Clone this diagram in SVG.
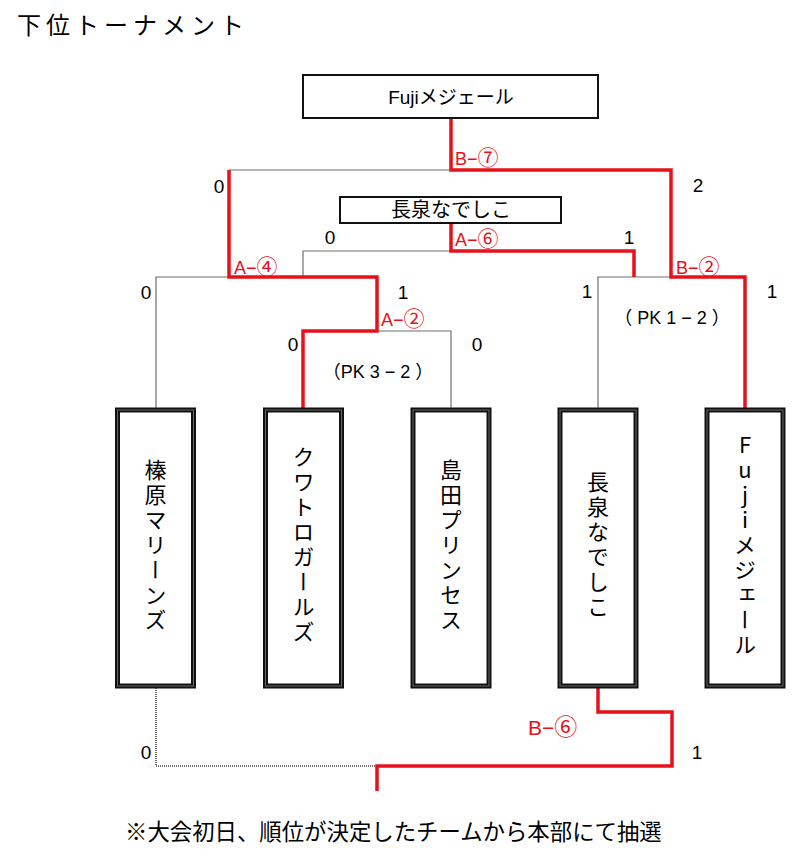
<svg xmlns="http://www.w3.org/2000/svg" width="800" height="858" viewBox="0 0 800 858">
<style>
.jp{font-family:"Noto Sans CJK JP","Liberation Sans",sans-serif;fill:#000}
.num{font-family:"Liberation Sans","Noto Sans CJK JP",sans-serif;font-size:19px;fill:#000;text-anchor:middle}
.pk{font-family:"Liberation Sans","Noto Sans CJK JP",sans-serif;font-size:18px;fill:#000;text-anchor:middle}
.lbl{font-family:"Liberation Sans","Noto Sans CJK JP",sans-serif;font-size:18px;fill:#e8101a}
.c{font-size:21px}
.hdr{fill:#fff;stroke:#111;stroke-width:2}
.team{fill:#fff;stroke:#111;stroke-width:5}
.teamin{fill:none;stroke:#666;stroke-width:1}
.vt{font-family:"Noto Sans CJK JP",sans-serif;font-size:22px;writing-mode:vertical-rl;text-orientation:upright;letter-spacing:3px;text-anchor:middle;fill:#000}
.g{fill:none;stroke:#6e6e6e;stroke-width:1.2}
.r{fill:none;stroke:#e8101a;stroke-width:3.5;stroke-linejoin:miter}
.d{fill:none;stroke:#444;stroke-width:1.6;stroke-dasharray:1 1}
</style>
<rect width="800" height="858" fill="#fff"/>
<text class="jp" x="17" y="34" font-size="24" letter-spacing="5">下位トーナメント</text>

<g id="connectors">
<path class="g" d="M229,170 H451"/>
<path class="g" d="M303,277 V251 H451"/>
<path class="g" d="M156,410 V277 H229"/>
<path class="g" d="M377,331 H451 V410"/>
<path class="g" d="M598,410 V277 H671"/>
<path class="d" d="M156,686 V766 H377"/>
<path class="r" d="M451,118 V170 H671 V277 H745 V410"/>
<path class="r" d="M229,170 V277 H377 V331 H303 V410"/>
<path class="r" d="M451,223 V251 H634 V277"/>
<path class="r" d="M598,686 V712 H672 V766 H377 V791"/>
</g>

<g id="labels">
<text class="lbl" x="455" y="165">B−<tspan class="c">⑦</tspan></text>
<text class="lbl" x="455" y="246">A−<tspan class="c">⑥</tspan></text>
<text class="lbl" x="234" y="274">A−<tspan class="c">④</tspan></text>
<text class="lbl" x="676" y="274">B−<tspan class="c">②</tspan></text>
<text class="lbl" x="381" y="326">A−<tspan class="c">②</tspan></text>
<text class="lbl" x="528" y="735" style="font-size:21px">B−<tspan style="font-size:23px">⑥</tspan></text>
<text class="num" x="219" y="193">0</text>
<text class="num" x="698" y="192">2</text>
<text class="num" x="330" y="244">0</text>
<text class="num" x="629" y="244">1</text>
<text class="num" x="146" y="299">0</text>
<text class="num" x="403" y="299">1</text>
<text class="num" x="293" y="351">0</text>
<text class="num" x="477" y="351">0</text>
<text class="num" x="587" y="298">1</text>
<text class="num" x="772" y="298">1</text>
<text class="num" x="146" y="759">0</text>
<text class="num" x="697" y="759">1</text>
<text class="pk" x="378" y="378">（PK 3 − 2 ）</text>
<text class="pk" x="672" y="324">（ PK 1 − 2 ）</text>
</g>

<g id="final">
<rect class="hdr" x="303" y="75" width="295" height="43"/>
<text class="jp" x="451" y="104" font-size="19" text-anchor="middle"><tspan font-family="Liberation Sans">Fuji</tspan>メジェール</text>
</g>
<g id="semi">
<rect class="hdr" x="340" y="197" width="221" height="26"/>
<text class="jp" x="451" y="217" font-size="20" text-anchor="middle">長泉なでしこ</text>
</g>

<g id="team1">
<rect class="team" x="117.5" y="410" width="76" height="276"/>
<rect class="teamin" x="117.5" y="410" width="76" height="276"/>
<text class="vt" x="155.5" y="546">榛原マリーンズ</text>
</g>
<g id="team2">
<rect class="team" x="265.5" y="410" width="76" height="276"/>
<rect class="teamin" x="265.5" y="410" width="76" height="276"/>
<text class="vt" x="303.5" y="546">クワトロガールズ</text>
</g>
<g id="team3">
<rect class="team" x="413" y="410" width="76" height="276"/>
<rect class="teamin" x="413" y="410" width="76" height="276"/>
<text class="vt" x="451" y="546">島田プリンセス</text>
</g>
<g id="team4">
<rect class="team" x="560" y="410" width="76" height="276"/>
<rect class="teamin" x="560" y="410" width="76" height="276"/>
<text class="vt" x="598" y="546">長泉なでしこ</text>
</g>
<g id="team5">
<rect class="team" x="707" y="410" width="76" height="276"/>
<rect class="teamin" x="707" y="410" width="76" height="276"/>
<text class="vt" x="745" y="546">Fujiメジェール</text>
</g>

<text class="jp" x="125" y="840" font-size="22.4">※大会初日、順位が決定したチームから本部にて抽選</text>
</svg>
